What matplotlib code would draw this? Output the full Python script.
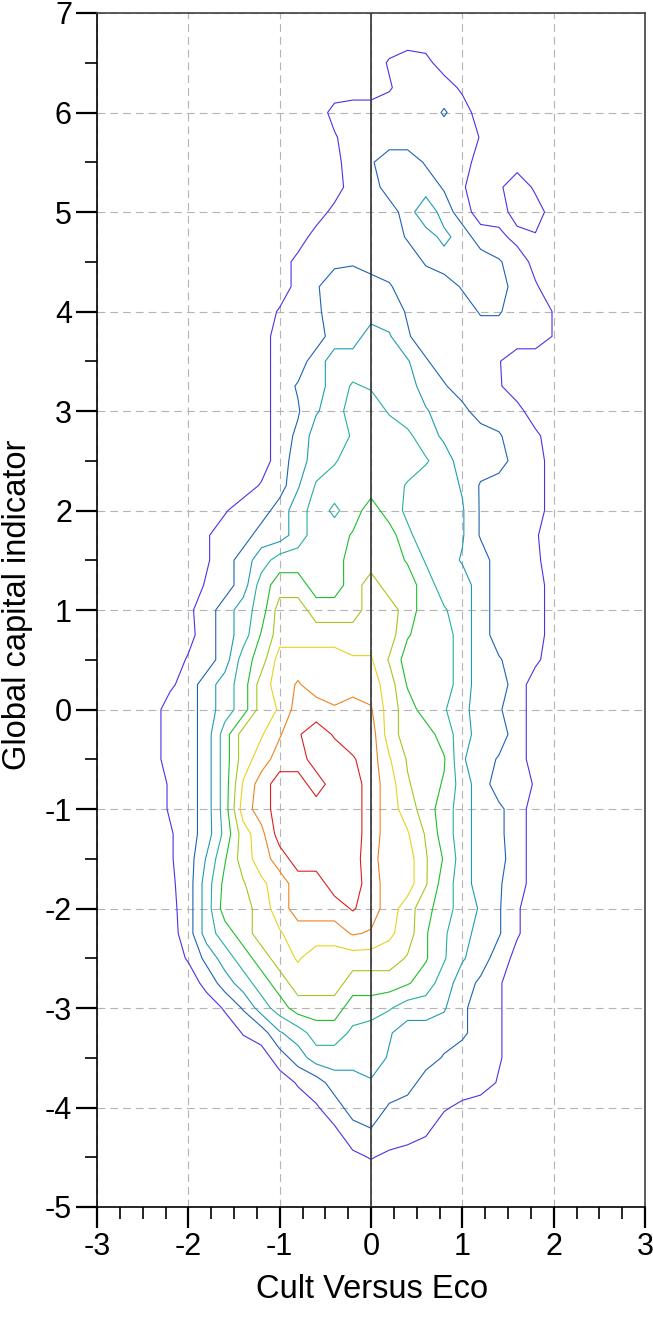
import numpy as np
import matplotlib
matplotlib.use("Agg")
import matplotlib.pyplot as plt
from matplotlib.ticker import MultipleLocator

plt.rcParams['font.family'] = ['Liberation Sans', 'DejaVu Sans']
plt.rcParams['axes.unicode_minus'] = False

# grid nodes of the density surface
x_nodes = [-2.6, -2.4, -2.2, -2.0, -1.8, -1.6, -1.4, -1.2, -1.0, -0.8, -0.6, -0.4, -0.2,
           0.0, 0.2, 0.4, 0.6, 0.8, 1.0, 1.2, 1.4, 1.6, 1.8, 2.0, 2.2]
y_nodes_top_down = [6.75, 6.5, 6.25, 6.0, 5.75, 5.5, 5.25, 5.0, 4.75, 4.5, 4.25, 4.0, 3.75, 3.5,
                    3.25, 3.0, 2.75, 2.5, 2.25, 2.0, 1.75, 1.5, 1.25, 1.0, 0.75, 0.5, 0.25, 0.0,
                    -0.25, -0.5, -0.75, -1.0, -1.25, -1.5, -1.75, -2.0, -2.25, -2.5, -2.75, -3.0,
                    -3.25, -3.5, -3.75, -4.0, -4.25, -4.5, -4.75]

# density level (rows from top to bottom)
density_rows = [
    [0]*25,
    [0,0,0,0,0,0,0,0,0,0,0,0,0,0,0.6,1,0.8,0,0,0,0,0,0,0,0],
    [0,0,0,0,0,0,0,0,0,0,0,0,0,0,0.4,1,1,1,0.3,0,0,0,0,0,0],
    [0,0,0,0,0,0,0,0,0,0,0,0.8,1,1,1,1,1,1.6,1,0,0,0,0,0,0],
    [0,0,0,0,0,0,0,0,0,0,0,0.4,1,1,1,1,1,1,1,0.45,0,0,0,0,0],
    [0,0,0,0,0,0,0,0,0,0,0,0.2,1,1.4,2,2,1.4,1,1,0,0,0,0,0,0],
    [0,0,0,0,0,0,0,0,0,0,0,0,1,1,2,2,2,1.4,0.6,0,0.3,1.2,0.3,0,0],
    [0,0,0,0,0,0,0,0,0,0,0,0.8,1,1,1,2,3.3,2,1,0,0.1,0.9,1,0,0],
    [0,0,0,0,0,0,0,0,0,0,0.9,1,1,1,1,1.6,2,2.8,2,1,0.75,0.2,0.4,0,0],
    [0,0,0,0,0,0,0,0,0,0.8,1,1.3,1.4,1,1,1,1.6,2,2,2,1.6,1,0.2,0,0],
    [0,0,0,0,0,0,0,0,0,0.8,1.4,2,2,2,1.6,1,1,1,1.6,2,2,1,0.6,0,0],
    [0,0,0,0,0,0,0,0,0.6,1,1.3,2,2,2,2,1.4,1,1,1,1.6,1.6,1,1,0.45,0],
    [0,0,0,0,0,0,0,0,1,1,1,2,2,3,2.6,1.6,1,1,1,1,1,1,1,0.45,0],
    [0,0,0,0,0,0,0,0,1,1,2,3,3,3,3,2.6,1.6,1,1,1,0.55,0,0,0,0],
    [0,0,0,0,0,0,0,0,1,1.6,2,3,3.6,3.4,3,3,2,1.6,1,1,0.6,0,0,0,0],
    [0,0,0,0,0,0,0,0,1,1.4,2.4,3,4,4,3.4,3,2.6,2,1.8,1,1,0.8,0,0,0],
    [0,0,0,0,0,0,0,0,1,1.7,3,3,3.6,4,4,3.7,3,2.3,2,2,1.6,1,0.7,0,0],
    [0,0,0,0,0,0,0,0,1,2,3,3.4,4,4,4,4,3.6,3,2,2,2,1,1,0,0],
    [0,0,0,0,0,0,0,0.6,1,2.4,3.6,4,4,4,4,3.4,3,3,2.4,1.4,1,1,1,0,0],
    [0,0,0,0,0,0.4,1,1,2,3,4,3.3,4,5,4,3.3,2.7,3,2.6,1.4,1,1,1,0,0],
    [0,0,0,0,0.4,1,1,2,2,3,4,4,4.6,5,5,3.7,3,3,2.6,1.4,1,1,0.6,0,0],
    [0,0,0,0,0.4,1,2,3,4,4,4,4,5,5,5,4.4,3.4,3,2.4,2,1,1,0.7,0,0],
    [0,0,0,0,0.6,1,2,4,5,5,4,4,5,6,5,5,4,3,3,2,1,1,1,0,0],
    [0,0,0,0.3,1,2,3,4,6,6,5,5,5,6,6,5,4,3.6,3,2,1,1,1,0,0],
    [0,0,0,0.2,1,2,3,4.6,6,6,6,6,6,6,6,4.6,4,4,3,2,1,1,1,0,0],
    [0,0,0,0.6,1,2,4,5,7,7,7,7,6.6,6.6,5.4,4,4,4,3,2,1.6,1,0.7,0,0],
    [0,0,0.3,1,2,3,4,6,7,7.6,7,7,7,7,6,4.4,4,4,3,2,2,1,0,0,0],
    [0,0,1,1,2,3,4,6,6.6,8,8,7.6,8,7.6,6,5,4,3.6,2.8,2,1.6,1,0,0,0],
    [0,0,1,1,2,4,6,6.4,7.4,8.4,9,8.4,8,8,6,5,5,4,3,2,2,1,0,0,0],
    [0,0,1,1,2,4,6,7,8,8,9,9,8.6,8,6.6,5.4,5,4.6,2.6,2,1.4,1,0,0,0],
    [0,0,0.6,1,2,4,6.6,8,9,9,8,9,9,8,7,5.6,5,4.4,3,2,1,1,0.4,0,0],
    [0,0,0.6,1,2,4,7,8,9,9,9,9,9,8,7,6,5,4,3,2,1.7,1,0,0,0],
    [0,0,0.4,1,2,3.8,6,7.2,9,9,9,9,9,8,7,6.6,5.4,4,3,2,1.7,1,0,0,0],
    [0,0,0.4,1,2.6,4.4,6,7,8,9,9,9,9,7.8,7,7,5.6,4.4,3,2,1.8,1,0,0,0],
    [0,0,0.3,1,3,4.8,5.4,6.3,7,8,8,9,9,8,7,7,5.6,4,3,2,1.6,1,0,0,0],
    [0,0,0.2,1,3,5,5,6,7,8,8,8,8.6,8,7,6,4.8,4,3,2.4,1.6,0.6,0,0,0],
    [0,0,0.1,1,3,4,5,6,6.4,7,7,7,7.6,7.4,6.7,6,4.6,3.6,3,2,1.6,0.6,0,0,0],
    [0,0,0,0.6,1.8,3,4,5,6,6.6,6,6,6,6,6,5.4,4.6,3.6,2.6,2,1,0.2,0,0,0],
    [0,0,0,0,0.8,2,3,4,5,6,6,6,5,5,5,4.6,4,3,2,1.3,0.6,0,0,0,0],
    [0,0,0,0,0,0.6,1.6,3,4,5,5,5,4,4,3.6,3,3,2.6,1.7,1,0.6,0,0,0,0],
    [0,0,0,0,0,0,0.55,1,2.4,3,4,4,3.3,3,2.6,2,2,2,1.7,1,0.6,0,0,0,0],
    [0,0,0,0,0,0,0,0,1,2,3,3,3,3,2.4,2,2,1.4,1,1,0.6,0,0,0,0],
    [0,0,0,0,0,0,0,0,0,0.6,1,2,2,2.4,2,2,1,1,1,1,0.4,0,0,0,0],
    [0,0,0,0,0,0,0,0,0,0,0.4,1,2,2,1.4,1,1,0.6,0.3,0,0,0,0,0,0],
    [0,0,0,0,0,0,0,0,0,0,0,0.3,1,1.4,1,1,0.6,0,0,0,0,0,0,0,0],
    [0,0,0,0,0,0,0,0,0,0,0,0,0.3,0.55,0.3,0,0,0,0,0,0,0,0,0,0],
    [0]*25,
]

contour_levels = [0.5, 1.5, 2.5, 3.5, 4.5, 5.5, 6.5, 7.5, 8.5]
level_colors = ['#4a32e6', '#1e62b4', '#1e9ab4', '#26ae9e', '#1ebe2a',
                '#a2c81e', '#e6d21e', '#f0821e', '#dc1e1e']

x_ticks = [-3, -2, -1, 0, 1, 2, 3]
y_ticks = [-5, -4, -3, -2, -1, 0, 1, 2, 3, 4, 5, 6, 7]
x_label = 'Cult Versus Eco'
y_label = 'Global capital indicator'

W, H = 653, 1319
fig = plt.figure(figsize=(W / 100, H / 100), dpi=100)
ax = fig.add_axes([97 / W, 1 - 1207 / H, (645 - 97) / W, (1207 - 13) / H])

X, Y = np.meshgrid(np.array(x_nodes), np.array(y_nodes_top_down[::-1]))
Z = np.array(density_rows[::-1], dtype=float)

ax.contour(X, Y, Z, levels=contour_levels, colors=level_colors,
           linewidths=0.8, zorder=3)

ax.set_xlim(-3, 3)
ax.set_ylim(-5, 7)
ax.set_xticks(x_ticks)
ax.set_yticks(y_ticks)
ax.set_xticklabels([str(v) for v in x_ticks])
ax.set_yticklabels([str(v) for v in y_ticks])
ax.xaxis.set_minor_locator(MultipleLocator(0.25))
ax.yaxis.set_minor_locator(MultipleLocator(0.5))
ax.tick_params(which='major', direction='out', length=15, width=1.6,
               labelsize=22, pad=3, color='black')
ax.tick_params(which='minor', direction='out', length=8.5, width=1.2, color='black')

ax.grid(True, which='major', color='#b4b4b4', linestyle=(0, (7, 4.5)),
        linewidth=0.8, zorder=0)
ax.set_axisbelow(True)
ax.axvline(0, color='#333333', linewidth=1.2, zorder=4)

for side in ['left', 'bottom']:
    ax.spines[side].set_color('black')
    ax.spines[side].set_linewidth(1.2)
for side in ['top', 'right']:
    ax.spines[side].set_color('#404040')
    ax.spines[side].set_linewidth(1.2)

fig.text(372 / W, 1 - 1290 / H, x_label, fontsize=23.5, ha='center', va='center')
fig.text(18 / W, 1 - 605 / H, y_label, fontsize=23.5, ha='center', va='center',
         rotation=90)

fig.savefig('out.png', dpi=100)
